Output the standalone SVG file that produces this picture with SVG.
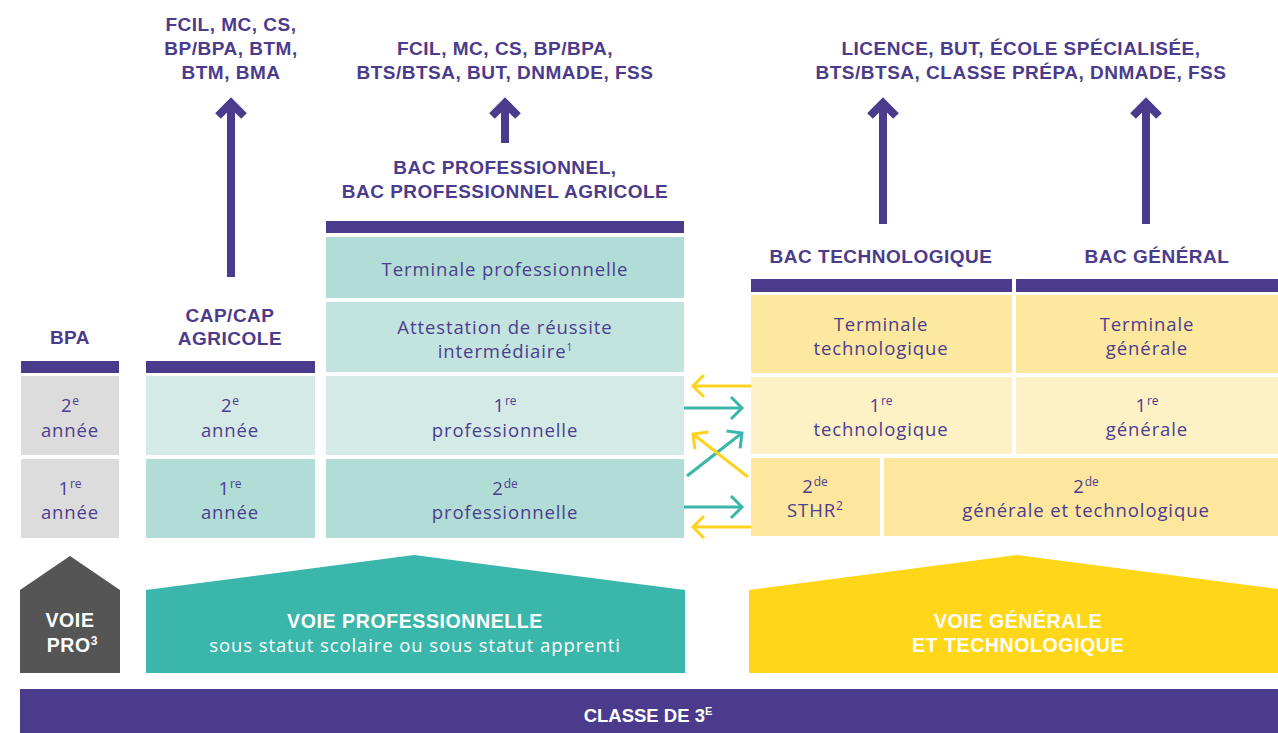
<svg xmlns="http://www.w3.org/2000/svg" width="1278" height="733" viewBox="0 0 1278 733">
<defs>
<style>
.h{font-family:"Liberation Sans",Arial,sans-serif;font-weight:bold;font-size:19px;letter-spacing:0.5px;fill:#4b3b8c;text-anchor:middle}
.c{font-family:"Open Sans","Liberation Sans",sans-serif;font-size:18.5px;letter-spacing:0.9px;fill:#4b3d8f;text-anchor:middle}
.w{font-family:"Liberation Sans",Arial,sans-serif;font-weight:bold;font-size:19.5px;letter-spacing:0.6px;fill:#ffffff;text-anchor:middle}
.wr{font-family:"Open Sans","Liberation Sans",sans-serif;font-size:18.5px;letter-spacing:0.9px;fill:#ffffff;text-anchor:middle}
.s{font-size:12px;letter-spacing:0}
.bar{fill:#4b3b8c}
.gray{fill:#dcdcdc}
.t1{fill:#d4eae6}
.t2{fill:#b2ddd6}
.t3{fill:#c3e4de}
.y1{fill:#fde89f}
.y2{fill:#fef1c6}
.y3{fill:#fde69e}
.up{stroke:#4b3b8c;stroke-width:8;fill:none}
.ta{stroke:#3ab6aa;stroke-width:3;fill:none}
.ya{stroke:#ffd21f;stroke-width:3;fill:none}
</style>
<marker id="mt" markerUnits="userSpaceOnUse" markerWidth="30" markerHeight="30" viewBox="-15 -15 30 30" refX="0" refY="0" orient="auto">
<path d="M-11,-11 L0,0 L-11,11" fill="none" stroke="#3ab6aa" stroke-width="3"/>
</marker>
<marker id="my" markerUnits="userSpaceOnUse" markerWidth="30" markerHeight="30" viewBox="-15 -15 30 30" refX="0" refY="0" orient="auto">
<path d="M-11,-11 L0,0 L-11,11" fill="none" stroke="#ffd21f" stroke-width="3"/>
</marker>
</defs>
<rect width="1278" height="733" fill="#ffffff"/>

<g id="outcomes">
<text class="h" x="231" y="31">FCIL, MC, CS,</text>
<text class="h" x="231" y="55">BP/BPA, BTM,</text>
<text class="h" x="231" y="79">BTM, BMA</text>
<text class="h" x="505" y="55">FCIL, MC, CS, BP/BPA,</text>
<text class="h" x="505" y="79">BTS/BTSA, BUT, DNMADE, FSS</text>
<text class="h" x="1021" y="55">LICENCE, BUT, ÉCOLE SPÉCIALISÉE,</text>
<text class="h" x="1021" y="79">BTS/BTSA, CLASSE PRÉPA, DNMADE, FSS</text>
</g>

<g id="bpa">
<text class="h" x="70" y="344">BPA</text>
<rect class="bar" x="21" y="361" width="98" height="12"/>
<rect class="gray" x="21" y="376" width="98" height="79"/>
<text class="c" x="70" y="412">2<tspan class="s" dy="-7">e</tspan></text>
<text class="c" x="70" y="437">année</text>
<rect class="gray" x="21" y="459" width="98" height="79"/>
<text class="c" x="70" y="495">1<tspan class="s" dy="-7">re</tspan></text>
<text class="c" x="70" y="519">année</text>
</g>

<g id="cap">
<text class="h" x="230" y="322">CAP/CAP</text>
<text class="h" x="230" y="345">AGRICOLE</text>
<rect class="bar" x="146" y="361" width="169" height="12"/>
<rect class="t1" x="146" y="376" width="169" height="79"/>
<text class="c" x="230" y="412">2<tspan class="s" dy="-7">e</tspan></text>
<text class="c" x="230" y="437">année</text>
<rect class="t2" x="146" y="459" width="169" height="79"/>
<text class="c" x="230" y="495">1<tspan class="s" dy="-7">re</tspan></text>
<text class="c" x="230" y="519">année</text>
</g>

<g id="bacpro">
<text class="h" x="505" y="174">BAC PROFESSIONNEL,</text>
<text class="h" x="505" y="198">BAC PROFESSIONNEL AGRICOLE</text>
<rect class="bar" x="326" y="221" width="358" height="12"/>
<rect class="t2" x="326" y="237" width="358" height="61"/>
<text class="c" x="505" y="276">Terminale professionnelle</text>
<rect class="t3" x="326" y="302" width="358" height="70"/>
<text class="c" x="505" y="334">Attestation de réussite</text>
<text class="c" x="505" y="358">intermédiaire<tspan style="font-size:10px;letter-spacing:0" dy="-7">1</tspan></text>
<rect class="t1" x="326" y="376" width="358" height="79"/>
<text class="c" x="505" y="412">1<tspan class="s" dy="-7">re</tspan></text>
<text class="c" x="505" y="437">professionnelle</text>
<rect class="t2" x="326" y="459" width="358" height="79"/>
<text class="c" x="505" y="495">2<tspan class="s" dy="-7">de</tspan></text>
<text class="c" x="505" y="519">professionnelle</text>
</g>

<g id="bactechno">
<text class="h" x="881" y="263">BAC TECHNOLOGIQUE</text>
<rect class="bar" x="751" y="279" width="261" height="13"/>
<rect class="y1" x="751" y="295" width="261" height="78"/>
<text class="c" x="881" y="331">Terminale</text>
<text class="c" x="881" y="355">technologique</text>
<rect class="y2" x="751" y="377" width="261" height="77"/>
<text class="c" x="881" y="412">1<tspan class="s" dy="-7">re</tspan></text>
<text class="c" x="881" y="436">technologique</text>
<rect class="y3" x="751" y="458" width="129" height="78"/>
<text class="c" x="815" y="493">2<tspan class="s" dy="-7">de</tspan></text>
<text class="c" x="815" y="517">STHR<tspan class="s" dy="-7">2</tspan></text>
</g>

<g id="bacgeneral">
<text class="h" x="1157" y="263">BAC GÉNÉRAL</text>
<rect class="bar" x="1016" y="279" width="262" height="13"/>
<rect class="y1" x="1016" y="295" width="262" height="78"/>
<text class="c" x="1147" y="331">Terminale</text>
<text class="c" x="1147" y="355">générale</text>
<rect class="y2" x="1016" y="377" width="262" height="77"/>
<text class="c" x="1147" y="412">1<tspan class="s" dy="-7">re</tspan></text>
<text class="c" x="1147" y="436">générale</text>
<rect class="y3" x="884" y="458" width="394" height="78"/>
<text class="c" x="1086" y="493">2<tspan class="s" dy="-7">de</tspan></text>
<text class="c" x="1086" y="517">générale et technologique</text>
</g>

<g id="voie-pro3">
<polygon points="20,590 70,556 120,590 120,673 20,673" fill="#555555"/>
<text class="w" x="70" y="627">VOIE</text>
<text class="w" x="72" y="652">PRO<tspan class="s" dy="-7">3</tspan></text>
</g>

<g id="voie-professionnelle">
<polygon points="146,590 414,555 685,590 685,673 146,673" fill="#3ab6aa"/>
<text class="w" x="415" y="628">VOIE PROFESSIONNELLE</text>
<text class="wr" x="415" y="652">sous statut scolaire ou sous statut apprenti</text>
</g>

<g id="voie-generale">
<polygon points="749,590 1017,555 1278,589 1278,673 749,673" fill="#ffd618"/>
<text class="w" x="1018" y="628">VOIE GÉNÉRALE</text>
<text class="w" x="1018" y="652">ET TECHNOLOGIQUE</text>
</g>

<g id="classe3">
<rect x="20" y="689" width="1258" height="44" fill="#4b3b8c"/>
<text class="w" x="648" y="722" style="font-size:18.5px;letter-spacing:0">CLASSE DE 3<tspan style="font-size:11px" dy="-7">E</tspan></text>
</g>

<g id="connectors">
<path class="up" d="M231,277 V104 M218,116 L231,103 L244,116"/>
<path class="up" d="M505,143 V104 M492,116 L505,103 L518,116"/>
<path class="up" d="M883,224 V104 M870,116 L883,103 L896,116"/>
<path class="up" d="M1146,224 V104 M1133,116 L1146,103 L1159,116"/>
<line class="ya" x1="751" y1="386" x2="693" y2="386" marker-end="url(#my)"/>
<line class="ta" x1="684" y1="408" x2="742" y2="408" marker-end="url(#mt)"/>
<line class="ta" x1="687" y1="476" x2="742" y2="433" marker-end="url(#mt)"/>
<line class="ya" x1="748" y1="477" x2="693" y2="434" marker-end="url(#my)"/>
<line class="ta" x1="684" y1="507" x2="742" y2="507" marker-end="url(#mt)"/>
<line class="ya" x1="751" y1="527" x2="693" y2="527" marker-end="url(#my)"/>
</g>
</svg>
